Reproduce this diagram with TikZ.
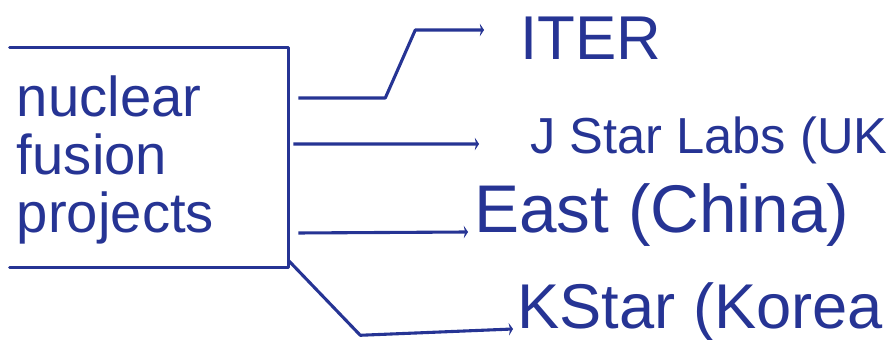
\documentclass[tikz,border=0pt]{standalone}
\usepackage{fontspec}
\setmainfont{Liberation Sans}
\usetikzlibrary{arrows.meta}
\definecolor{ink}{RGB}{38,52,148}
\tikzset{
  frame/.style={draw=ink, line width=2.4pt, line join=round, line cap=round},
  link/.style={draw=ink, line width=2.2pt, line join=round, -{Stealth[length=3pt,width=9pt]}},
  lbl/.style={text=ink, inner sep=0pt, anchor=west}
}
\begin{document}
\begin{tikzpicture}
\useasboundingbox (0,0) rectangle (22.35,8.5);
% box with the topic
\node[text=ink, align=left, inner sep=0.1cm, minimum width=6.95cm, minimum height=5.35cm, text width=6.6cm, font=\fontsize{40}{41}\selectfont] (box) at (3.725,4.5) {nuclear\\fusion\\projects};
\draw[frame] ([yshift=0.125cm]box.north west) -- ([yshift=0.125cm]box.north east) -- (box.south east) -- (box.south west);

% projects
\node[lbl, font=\fontsize{44}{44}\selectfont] (iter) at (13.0,7.55) {ITER};
\node[lbl, font=\fontsize{36}{36}\selectfont] (jstar) at (13.25,5.0) {J Star Labs (UK};
\node[lbl, font=\fontsize{48}{48}\selectfont] (east) at (11.85,3.125) {East (China)};
\node[lbl, font=\fontsize{45}{45}\selectfont] (kstar) at (12.925,0.7) {KStar (Korea};

\draw[link] ([xshift=0.25cm,yshift=1.55cm]box.east) -- ++(2.175,0) -- ++(0.75,1.7) -- ([xshift=-0.9cm,yshift=0.2cm]iter.west);
\draw[link] ([xshift=0.125cm,yshift=0.4cm]box.east) -- ([xshift=-1.275cm,yshift=-0.1cm]jstar.west);
\draw[link] ([xshift=0.25cm,yshift=-1.825cm]box.east) -- ([xshift=-0.15cm,yshift=-0.425cm]east.west);
\draw[link] ([yshift=0.175cm]box.south east) -- ++(1.8,-1.875) -- ([xshift=-0.1cm,yshift=-0.425cm]kstar.west);
\end{tikzpicture}
\end{document}
